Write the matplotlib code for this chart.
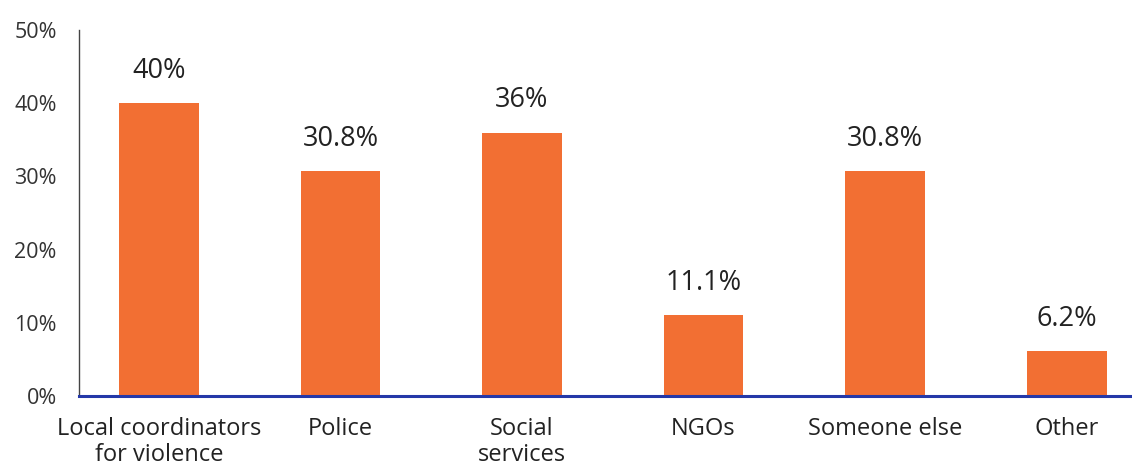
import matplotlib
matplotlib.use("Agg")
import matplotlib.pyplot as plt

# data
categories = ["Local coordinators\nfor violence", "Police", "Social\nservices",
              "NGOs", "Someone else", "Other"]
values = [40, 30.8, 36, 11.1, 30.8, 6.2]
value_labels = ["40%", "30.8%", "36%", "11.1%", "30.8%", "6.2%"]
yticks = [0, 10, 20, 30, 40, 50]
ytick_labels = ["0%", "10%", "20%", "30%", "40%", "50%"]

plt.rcParams['font.family'] = ['Open Sans', 'DejaVu Sans']

fig = plt.figure(figsize=(11.32, 4.74), dpi=100)
ax = fig.add_axes([0.0698, 0.1646, 0.9302, 0.772])

x = range(len(categories))
bars = ax.bar(x, values, width=0.44, color='#F26F33')

for b, lab in zip(bars, value_labels):
    ax.annotate(lab, (b.get_x() + b.get_width() / 2, b.get_height()),
                xytext=(0, 13), textcoords='offset points',
                ha='center', va='bottom', fontsize=19.5, color='#222222')

ax.set_xlim(-0.44, 5.36)
ax.set_ylim(0, 50)
ax.set_yticks(yticks)
ax.set_yticklabels(ytick_labels, fontsize=15.5, color='#333333')
ax.set_xticks(list(x))
ax.set_xticklabels(categories, fontsize=17, color='#222222', linespacing=1.1)
ax.tick_params(axis='y', length=0, pad=16)
ax.tick_params(axis='x', length=0, pad=15)

for s in ['top', 'right']:
    ax.spines[s].set_visible(False)
ax.spines['left'].set_color('#444444')
ax.spines['left'].set_linewidth(1.0)
ax.spines['bottom'].set_color('#2438a8')
ax.spines['bottom'].set_linewidth(2.2)
ax.spines['bottom'].set_zorder(5)

fig.savefig("out.png", dpi=100)
